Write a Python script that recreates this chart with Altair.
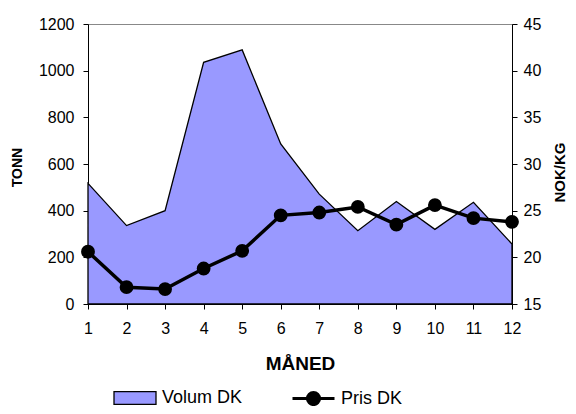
import altair as alt
import pandas as pd

months = [1, 2, 3, 4, 5, 6, 7, 8, 9, 10, 11, 12]
volum_dk = [517, 336, 400, 1036, 1089, 686, 471, 314, 439, 320, 436, 257]
pris_dk = [20.6, 16.8, 16.6, 18.8, 20.7, 24.5, 24.8, 25.4, 23.5, 25.6, 24.2, 23.8]

df = pd.DataFrame({
    "Måned": months,
    "Volum": volum_dk,
    "Pris": pris_dk,
    "s1": ["Volum DK"] * 12,
    "s2": ["Pris DK"] * 12,
})

FONT = "Liberation Sans"

x_axis = alt.Axis(
    values=months, title="MÅNED", grid=False, labelFontSize=16,
    titleFontSize=19, titleFontWeight="bold", labelPadding=11,
    titleX=212, titleY=59, titleBaseline="middle",
    tickSize=5, domainColor="black", tickColor="black",
    labelColor="black", titleColor="black", format="d",
    labelOverlap=False, labelFlush=False, tickCount=12,
)
x_scale = alt.Scale(domain=[1, 12], nice=False, zero=False)

area = alt.Chart(df).mark_area(stroke="black", strokeWidth=1.3, opacity=1).encode(
    x=alt.X("Måned:Q", scale=x_scale, axis=x_axis),
    y=alt.Y(
        "Volum:Q",
        scale=alt.Scale(domain=[0, 1200], nice=False),
        axis=alt.Axis(
            orient="left", values=[0, 200, 400, 600, 800, 1000, 1200],
            title="TONN", grid=False, labelFontSize=16, titleFontSize=14,
            titleFontWeight="bold", labelPadding=9, tickSize=5,
            titleX=-71, titleY=143, titleAngle=-90, titleBaseline="middle",
            domainColor="black", tickColor="black", labelColor="black",
            titleColor="black", format="d", labelOverlap=False, labelFlush=False,
        ),
    ),
    fill=alt.Fill(
        "s1:N",
        scale=alt.Scale(domain=["Volum DK"], range=["#9999FF"]),
        legend=alt.Legend(
            title=None, orient="none", legendX=25, legendY=352,
            symbolType="M-1,-0.3H1V0.3H-1Z", symbolSize=1764,
            symbolStrokeColor="black", symbolStrokeWidth=1.3,
            labelFontSize=18, labelOffset=5, padding=0, labelColor="black",
        ),
    ),
)

line = alt.Chart(df).mark_line(
    strokeWidth=3.5,
    point=alt.OverlayMarkDef(filled=True, fill="black", size=140, opacity=1),
).encode(
    x=alt.X("Måned:Q", scale=x_scale, axis=x_axis),
    y=alt.Y(
        "Pris:Q",
        scale=alt.Scale(domain=[15, 45], nice=False, zero=False),
        axis=alt.Axis(
            orient="right", values=[15, 20, 25, 30, 35, 40, 45],
            title="NOK/KG", grid=False, labelFontSize=16, titleFontSize=15,
            titleFontWeight="bold", labelPadding=6, tickSize=5,
            titleX=47, titleY=148, titleAngle=-90, titleBaseline="middle",
            domainColor="black", tickColor="black", labelColor="black",
            titleColor="black", labelOverlap=False, labelFlush=False,
        ),
    ),
    stroke=alt.Stroke(
        "s2:N",
        scale=alt.Scale(domain=["Pris DK"], range=["black"]),
        legend=alt.Legend(
            title=None, orient="none", legendX=203, legendY=352,
            symbolType="M-1,0H-0.29A0.29,0.29 0 1 1 0.29,0A0.29,0.29 0 1 1 -0.29,0M0.29,0H1",
            symbolSize=1764, symbolFillColor="black", symbolStrokeColor="black",
            symbolStrokeWidth=3, labelFontSize=18, labelOffset=5, padding=0,
            labelColor="black",
        ),
    ),
)

chart = (
    alt.layer(area, line)
    .resolve_scale(y="independent", fill="independent", stroke="independent")
    .properties(
        width=424, height=280,
        autosize=alt.AutoSizeParams(type="none"),
        padding={"left": 80, "top": 16, "right": 56, "bottom": 102},
        background="white",
    )
    .configure(font=FONT)
    .configure_view(stroke="#888888", strokeWidth=1)
)

chart.save("out.html", embed_options={"renderer": "svg", "actions": False})
